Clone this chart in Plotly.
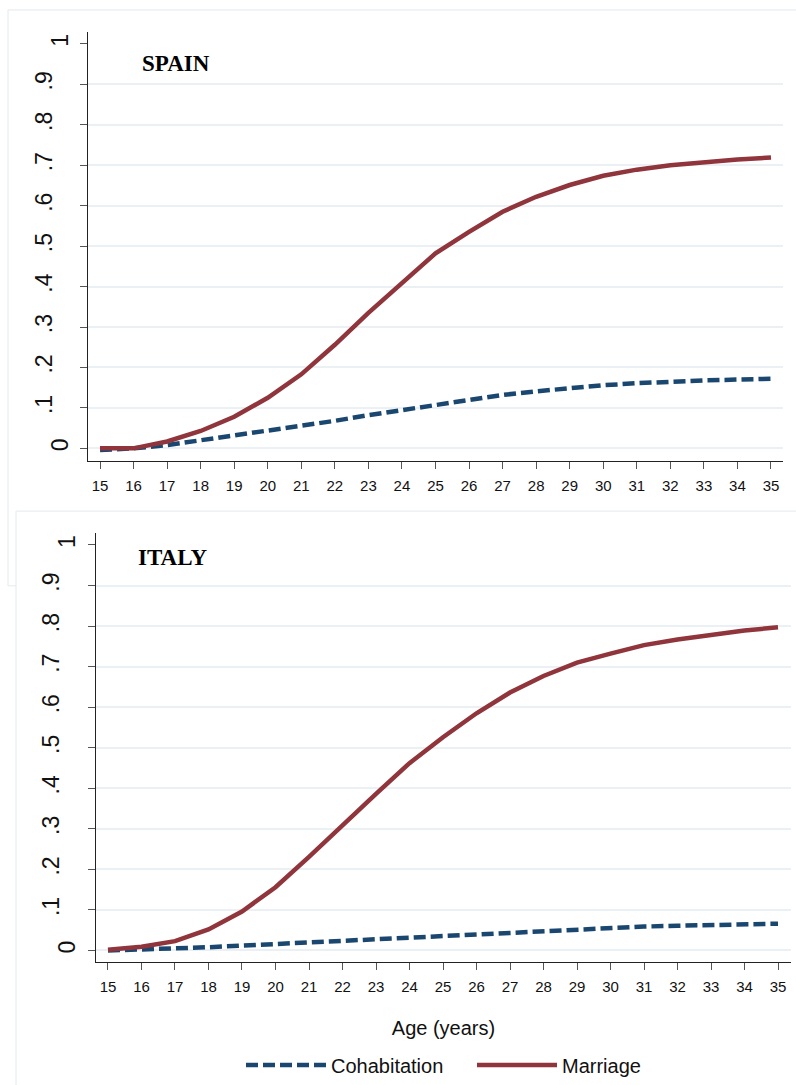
import plotly.graph_objects as go

# Cumulative proportion entering a first union, by age
ages = list(range(15, 36))
spain_cohabitation = [-0.004, 0.0, 0.008, 0.02, 0.031, 0.044, 0.055, 0.068, 0.082, 0.095, 0.108,
                      0.121, 0.132, 0.141, 0.149, 0.156, 0.161, 0.165, 0.168, 0.170, 0.172]
spain_marriage = [0.0, 0.0, 0.017, 0.043, 0.078, 0.125, 0.183, 0.256, 0.335, 0.41, 0.482,
                  0.535, 0.585, 0.622, 0.651, 0.674, 0.689, 0.700, 0.708, 0.714, 0.719]
italy_cohabitation = [0.0, 0.002, 0.005, 0.008, 0.012, 0.016, 0.019, 0.023, 0.028, 0.033, 0.037,
                      0.041, 0.045, 0.049, 0.053, 0.057, 0.059, 0.061, 0.063, 0.065, 0.066]
italy_marriage = [0.002, 0.009, 0.023, 0.052, 0.096, 0.156, 0.231, 0.31, 0.386, 0.462, 0.526,
                  0.585, 0.636, 0.677, 0.71, 0.732, 0.753, 0.767, 0.778, 0.789, 0.797]

panel_titles = ["SPAIN", "ITALY"]
y_tickvals = [0, 0.1, 0.2, 0.3, 0.4, 0.5, 0.6, 0.7, 0.8, 0.9, 1]
# whole-number labels sit close to the axis, decimal labels a little further out
y_text_whole = ["0", "", "", "", "", "", "", "", "", "", "1"]
grid_vals = y_tickvals[:-1]
y_text_decimal = ["", ".1", ".2", ".3", ".4", ".5", ".6", ".7", ".8", ".9"]

W, H = 796, 1085
NAVY = "#1a476f"
MAROON = "#90353b"

def px_x(p):
    return p / W

def px_y(p):
    return 1 - p / H

fig = go.Figure()

# cohabitation on the base axis, marriage on the overlay axis (drawn on top)
series = [
    (spain_cohabitation, spain_marriage, "x", "y", "y3", True),
    (italy_cohabitation, italy_marriage, "x2", "y2", "y4", False),
]
for cohab, marr, xa, ya_base, ya_over, show in series:
    fig.add_trace(go.Scatter(x=ages, y=cohab, mode="lines", name="Cohabitation",
                             line=dict(color=NAVY, width=4.5, dash="12px,5px"),
                             xaxis=xa, yaxis=ya_base, showlegend=show, legendrank=1))
    fig.add_trace(go.Scatter(x=ages, y=marr, mode="lines", name="Marriage",
                             line=dict(color=MAROON, width=4.5),
                             xaxis=xa, yaxis=ya_over, showlegend=show, legendrank=2))

tick_font = dict(family="Arial, Liberation Sans", size=15, color="#111")
ytick_font = dict(family="Arial, Liberation Sans", size=23, color="#111")

# panel geometry in pixels: (left, right, top, bottom, x-range, y-range, standoffs)
panels = [
    (88, 783, 32, 463, [14.642, 35.358], [-0.032, 1.0296], 3, 19),
    (96, 791, 535, 966, [14.642, 35.388], [-0.0295, 1.0295], 4, 20),
]

fig.update_layout(
    width=W, height=H,
    margin=dict(l=0, r=0, t=0, b=0),
    paper_bgcolor="white",
    plot_bgcolor="rgba(0,0,0,0)",
)

for i, (l, r, t, b, xr, yr, so_whole, so_dec) in enumerate(panels):
    xn = "xaxis" if i == 0 else "xaxis2"
    yn = "yaxis" if i == 0 else "yaxis2"
    ovn = "yaxis3" if i == 0 else "yaxis4"
    xid = "x" if i == 0 else "x2"
    yid = "y" if i == 0 else "y2"
    fig.update_layout({
        xn: dict(
            domain=[px_x(l), px_x(r)], range=xr, anchor=yid,
            tickvals=ages, ticks="outside", ticklen=7, tickwidth=1, tickcolor="#555",
            showline=True, linecolor="#222", linewidth=1, showgrid=False, zeroline=False,
            tickfont=tick_font, ticklabelstandoff=4,
        ),
        # base y axis: line, tick marks, whole-number labels
        yn: dict(
            domain=[px_y(b), px_y(t)], range=yr, anchor=xid,
            tickmode="array", tickvals=y_tickvals, ticktext=y_text_whole, tickangle=-90,
            ticks="outside", ticklen=7, tickwidth=1, tickcolor="#555",
            showline=True, linecolor="#222", linewidth=1,
            showgrid=False, zeroline=False, ticklabelstandoff=so_whole,
            tickfont=ytick_font,
        ),
        # overlaid y axis: horizontal grid and decimal labels
        ovn: dict(
            overlaying=yid, anchor=xid, range=yr, side="left",
            tickmode="array", tickvals=grid_vals, ticktext=y_text_decimal, tickangle=-90,
            ticks="outside", ticklen=7, tickcolor="rgba(0,0,0,0)",
            showgrid=True, gridcolor="#eaf0f3", gridwidth=1.5,
            showline=False, zeroline=False, ticklabelstandoff=so_dec,
            tickfont=ytick_font,
        ),
    })

fig.update_layout(xaxis2_title=dict(text="Age (years)",
                                    font=dict(family="Arial, Liberation Sans", size=20, color="#111"),
                                    standoff=26))

fig.update_layout(legend=dict(
    orientation="h", x=px_x(241), xanchor="left", y=px_y(1069), yanchor="middle",
    font=dict(family="Arial, Liberation Sans", size=20, color="#111"),
    itemwidth=80, entrywidth=136, entrywidthmode="pixels", traceorder="normal",
    bgcolor="rgba(0,0,0,0)",
))

# framed panel backgrounds
fig.update_layout(shapes=[
    dict(type="rect", xref="paper", yref="paper", layer="below",
         x0=px_x(8), x1=px_x(805), y0=px_y(588), y1=px_y(10),
         line=dict(color="#e3eaee", width=1), fillcolor="white"),
    dict(type="rect", xref="paper", yref="paper", layer="below",
         x0=px_x(16), x1=px_x(810), y0=px_y(1100), y1=px_y(513),
         line=dict(color="#e3eaee", width=1), fillcolor="white"),
])

title_pos = [(140, 64), (136, 560)]
fig.update_layout(annotations=[
    dict(text=txt, xref="paper", yref="paper", x=px_x(px), y=px_y(py),
         xanchor="left", yanchor="middle", showarrow=False,
         font=dict(family="Liberation Serif, Times New Roman", size=23, color="#000", weight="bold"))
    for txt, (px, py) in zip(panel_titles, title_pos)
])

fig.write_html("out.html")
